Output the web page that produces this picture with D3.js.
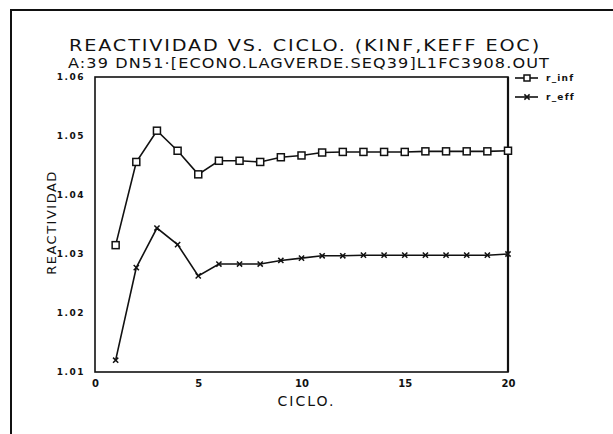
<!DOCTYPE html>
<html>
<head>
<meta charset="utf-8">
<script src="https://cdn.jsdelivr.net/npm/d3@7"></script>
<style>
  html, body { margin: 0; padding: 0; background: #fff; }
  svg { display: block; }
  text { fill: #111; }
</style>
</head>
<body>
<svg id="chart" width="613" height="434"></svg>
<script>
// Cycle numbers and reactivity values at end of cycle
const cycles = [1, 2, 3, 4, 5, 6, 7, 8, 9, 10, 11, 12, 13, 14, 15, 16, 17, 18, 19, 20];
const rInf = [1.0315, 1.0456, 1.0509, 1.0475, 1.0435, 1.0458, 1.0458, 1.0456, 1.0464, 1.0467,
              1.0472, 1.0473, 1.0473, 1.0473, 1.0473, 1.0474, 1.0474, 1.0474, 1.0474, 1.0475];
const rEff = [1.0120, 1.0277, 1.0344, 1.0316, 1.0263, 1.0283, 1.0283, 1.0283, 1.0289, 1.0293,
              1.0297, 1.0297, 1.0298, 1.0298, 1.0298, 1.0298, 1.0298, 1.0298, 1.0298, 1.0300];
const xTicks = [0, 5, 10, 15, 20];
const yTicks = [1.01, 1.02, 1.03, 1.04, 1.05, 1.06];
const seriesNames = ["r_inf", "r_eff"];

const svg = d3.select("#chart");
const ink = "#111";

// outer page border
svg.append("rect")
  .attr("x", 11).attr("y", 10).attr("width", 640).attr("height", 460)
  .attr("fill", "none").attr("stroke", ink).attr("stroke-width", 2);

const plot = { left: 95, right: 508, top: 77, bottom: 372 };
const x = d3.scaleLinear().domain([0, 20]).range([plot.left, plot.right]);
const y = d3.scaleLinear().domain([1.01, 1.06]).range([plot.bottom, plot.top]);

// titles (wide plotter-style lettering)
svg.append("text")
  .attr("x", 69).attr("y", 51)
  .attr("font-family", "DejaVu Sans").attr("font-size", 15.5)
  .attr("letter-spacing", 1.5)
  .attr("textLength", 472).attr("lengthAdjust", "spacingAndGlyphs")
  .text("REACTIVIDAD VS. CICLO. (KINF,KEFF EOC)");
svg.append("text")
  .attr("x", 68).attr("y", 68)
  .attr("font-family", "DejaVu Sans").attr("font-size", 14.5)
  .attr("letter-spacing", 1)
  .attr("textLength", 482).attr("lengthAdjust", "spacingAndGlyphs")
  .text("A:39  DN51·[ECONO.LAGVERDE.SEQ39]L1FC3908.OUT");

// plot frame
svg.append("rect")
  .attr("x", plot.left).attr("y", plot.top)
  .attr("width", plot.right - plot.left).attr("height", plot.bottom - plot.top)
  .attr("fill", "none").attr("stroke", ink).attr("stroke-width", 1.6);
svg.append("line")
  .attr("x1", plot.right).attr("x2", plot.right)
  .attr("y1", plot.top).attr("y2", plot.bottom)
  .attr("stroke", ink).attr("stroke-width", 2.2);

// axes: labels only, no tick marks
const xAxis = d3.axisBottom(x).tickValues(xTicks).tickSize(0).tickPadding(8).tickFormat(d3.format("d"));
const gx = svg.append("g").attr("transform", `translate(0,${plot.bottom})`).call(xAxis);
gx.select(".domain").remove();
gx.selectAll("text")
  .attr("font-family", "DejaVu Sans").attr("font-weight", "bold").attr("font-size", 10)
  .attr("fill", ink);

const yAxis = d3.axisLeft(y).tickValues(yTicks).tickSize(0).tickPadding(10).tickFormat(d3.format(".2f"));
const gy = svg.append("g").attr("transform", `translate(${plot.left},0)`).call(yAxis);
gy.select(".domain").remove();
gy.selectAll("text")
  .attr("font-family", "DejaVu Sans").attr("font-weight", "bold").attr("font-size", 9)
  .attr("letter-spacing", 1.5).attr("fill", ink);

// axis titles
svg.append("text")
  .attr("x", (plot.left + plot.right) / 2 + 5).attr("y", 406)
  .attr("text-anchor", "middle")
  .attr("font-family", "DejaVu Sans").attr("font-size", 14)
  .attr("letter-spacing", 2)
  .text("CICLO.");
svg.append("text")
  .attr("transform", `translate(56,${(plot.top + plot.bottom) / 2 - 2}) rotate(-90)`)
  .attr("text-anchor", "middle")
  .attr("font-family", "DejaVu Sans").attr("font-size", 13)
  .attr("letter-spacing", 1.5)
  .text("REACTIVIDAD");

// series lines
const line = d3.line().x((d, i) => x(cycles[i])).y(d => y(d));
[rInf, rEff].forEach(vals => {
  svg.append("path")
    .datum(vals)
    .attr("d", line)
    .attr("fill", "none").attr("stroke", ink).attr("stroke-width", 1.6);
});

// markers
const sq = 7;
svg.append("g").selectAll("rect")
  .data(rInf)
  .join("rect")
  .attr("x", (d, i) => x(cycles[i]) - sq / 2)
  .attr("y", d => y(d) - sq / 2)
  .attr("width", sq).attr("height", sq)
  .attr("fill", "#fff").attr("stroke", ink).attr("stroke-width", 1.5);

const cross = 2.6;
svg.append("g").selectAll("path")
  .data(rEff)
  .join("path")
  .attr("d", (d, i) => {
    const cx = x(cycles[i]), cy = y(d);
    return `M${cx - cross},${cy - cross}L${cx + cross},${cy + cross}M${cx - cross},${cy + cross}L${cx + cross},${cy - cross}`;
  })
  .attr("stroke", ink).attr("stroke-width", 1.5);

// legend
const legendRows = [78, 97];
legendRows.forEach((ly, k) => {
  svg.append("line")
    .attr("x1", 515).attr("x2", 538).attr("y1", ly).attr("y2", ly)
    .attr("stroke", ink).attr("stroke-width", 1.6);
  if (k === 0) {
    svg.append("rect")
      .attr("x", 524).attr("y", ly - 3).attr("width", 6).attr("height", 6)
      .attr("fill", "#fff").attr("stroke", ink).attr("stroke-width", 1.5);
  } else {
    svg.append("path")
      .attr("d", `M${527 - cross},${ly - cross}L${527 + cross},${ly + cross}M${527 - cross},${ly + cross}L${527 + cross},${ly - cross}`)
      .attr("stroke", ink).attr("stroke-width", 1.5);
  }
  svg.append("text")
    .attr("x", 546).attr("y", ly + 3)
    .attr("font-family", "DejaVu Sans").attr("font-weight", "bold").attr("font-size", 9)
    .attr("letter-spacing", 1.2)
    .text(seriesNames[k]);
});
</script>
</body>
</html>
